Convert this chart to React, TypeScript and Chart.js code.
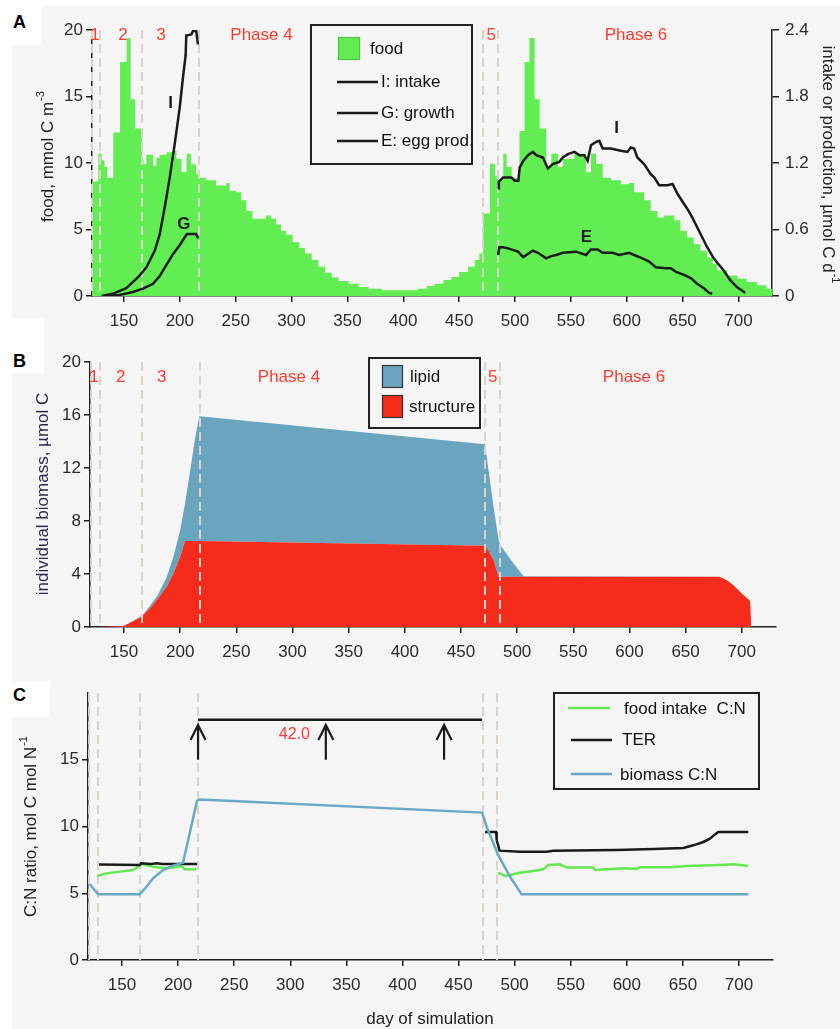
import React, { useEffect, useRef } from 'react';
import { Chart, registerables } from 'chart.js';

Chart.register(...registerables);

const FONT = '"Liberation Sans", Arial, Helvetica, sans-serif';
const BG = '#f5f5f5';
const AXIS = '#1f1f1f';
const TICK = '#2b2b2b';
const PHASE = '#dbd2ca';
const RED_TXT = '#ff3a2f';
const GREEN = '#62ee52';
const LIPID = '#6aa5bf';
const STRUCT = '#f52b1c';
const LINE_BLACK = '#1b1b1b';
const CN_GREEN = '#63ea4f';
const CN_BLUE = '#6aa8c7';

// ---------- shared axis data ----------
const X_TICKS = [150, 200, 250, 300, 350, 400, 450, 500, 550, 600, 650, 700];
const A_FOOD_TICKS = [0, 5, 10, 15, 20];
const A_RATE_TICKS = [0, 0.6, 1.2, 1.8, 2.4];
const B_TICKS = [0, 4, 8, 12, 16, 20];
const C_TICKS = [0, 5, 10, 15];
const PHASE_DAYS = [128.8, 166.3, 217.4, 471.6, 484.6];
const PHASE_NAMES = ['1', '2', '3', 'Phase 4', '5', 'Phase 6'];
const A_PHASE_LABEL_DAYS = [124, 149.1, 183.1, 273.1, 478.6, 608.2];
const B_PHASE_LABEL_DAYS = [123.3, 147.1, 183.6, 296.9, 478.3, 604.1];

// ---------- panel A data ----------
// food concentration, step start day -> value (mmol C m-3)
const foodSteps: [number, number][] = [
  [121.4, 8.6], [127, 10.7], [130, 10.2], [132.5, 9.7], [135, 8.9], [140.5, 12.3], [146.5, 17.6],
  [152.5, 19.4], [156, 14.8], [160, 12.6], [166, 10.2], [167.5, 9.9], [170, 10.6], [176, 9.8],
  [179, 10.4], [182, 10.6], [188, 10.8], [194, 10.9], [197, 10.3], [201.5, 9.3], [206, 10.7],
  [210, 9.9], [214.5, 9.2], [217.5, 8.9], [223.5, 8.7], [232.5, 8.3], [241.5, 8.5], [244.5, 7.9],
  [250.5, 7.8], [255, 7.2], [259.5, 6.4], [265, 5.8], [277, 6.06], [281.5, 5.8], [286, 5.4],
  [290.5, 4.9], [295, 4.6], [301, 4.05], [307, 3.6], [312, 3.2], [318, 2.7], [324, 2.2],
  [330, 1.75], [336, 1.4], [342, 1.13], [351, 0.93], [360, 0.68], [369, 0.55], [381, 0.43],
  [396, 0.43], [413, 0.55], [421, 0.75], [428, 0.93], [436, 1.2], [443, 1.43], [450, 1.8],
  [458, 2.2], [464, 2.7], [468, 3.2], [471.5, 6.2], [477.5, 9.95], [482, 9.0], [485, 8.7],
  [489.5, 10.7], [492.5, 9.7], [497, 8.9], [504, 12.4], [508.5, 17.6], [513, 19.4], [517.5, 14.8],
  [522, 12.6], [528, 9.7], [532.5, 10.7], [538.5, 9.7], [543, 10.3], [553, 10.7], [563.5, 9.3],
  [568, 10.7], [572.5, 9.95], [578.5, 8.9], [586, 8.7], [595, 8.4], [602, 8.5], [606.5, 7.8],
  [615.5, 7.2], [621.5, 6.4], [627.5, 5.9], [633.5, 6.06], [642.5, 5.7], [648, 4.9], [654, 4.4],
  [660, 3.9], [666, 3.4], [672, 2.9], [677, 2.4], [681, 1.93], [690, 1.55], [699, 1.3],
  [707.5, 1.05], [716.5, 0.8], [725, 0.55], [730, 0.55],
];
// intake, growth, egg production (µmol C d-1)
const intakeYear1: [number, number][] = [
  [130, 0], [140, 0.02], [152, 0.07], [162.7, 0.17], [170.2, 0.26], [177.6, 0.41], [182.1, 0.56],
  [186.5, 0.8], [191, 1.07], [195.4, 1.37], [199.9, 1.7], [202.8, 1.97], [205.2, 2.17],
  [205.8, 2.35], [210.3, 2.36], [211.7, 2.39], [214.7, 2.39], [216.2, 2.27],
];
const growthYear1: [number, number][] = [
  [131, 0], [146, 0.01], [158, 0.036], [167, 0.067], [176, 0.11], [182, 0.18], [188, 0.28],
  [194, 0.38], [200, 0.46], [204.3, 0.53], [206.5, 0.56], [214.5, 0.56], [216.5, 0.52],
];
const intakeYear2: [number, number][] = [
  [484.9, 0.97], [485.5, 1.03], [489.4, 1.07], [496.8, 1.07], [499.7, 1.04], [503, 1.04],
  [504.2, 1.16], [507.5, 1.22], [511.6, 1.27], [516, 1.3], [519, 1.27], [525, 1.25], [529.4, 1.15],
  [533.8, 1.19], [539.7, 1.21], [542.8, 1.25], [547.3, 1.28], [553.2, 1.3], [557.7, 1.27],
  [562, 1.27], [565, 1.22], [568, 1.36], [572.5, 1.39], [575.4, 1.4], [578.4, 1.33], [585.8, 1.33],
  [594.7, 1.31], [600.6, 1.3], [603.6, 1.34], [606.6, 1.33], [609.5, 1.25], [615.5, 1.19],
  [621.5, 1.1], [624.5, 1.07], [629, 1.0], [636.6, 1.0], [641, 1.01], [645.5, 0.92], [650, 0.85],
  [654, 0.79], [658.6, 0.71], [663, 0.62], [667.5, 0.53], [672, 0.44], [677.9, 0.34], [681, 0.3],
  [686.8, 0.23], [692.8, 0.14], [698.6, 0.08], [706, 0.03],
];
const eggYear2: [number, number][] = [
  [484.9, 0.37], [486, 0.44], [489.4, 0.44], [493.8, 0.43], [502.7, 0.4], [507.2, 0.35],
  [511.6, 0.38], [516, 0.41], [520.5, 0.39], [527.9, 0.34], [532.4, 0.36], [536.8, 0.37],
  [542.8, 0.39], [554.7, 0.4], [563.5, 0.37], [568, 0.42], [574, 0.42], [578.4, 0.39],
  [587.3, 0.39], [593.2, 0.37], [602.2, 0.39], [606.6, 0.37], [614, 0.34], [620, 0.31],
  [626, 0.26], [634.9, 0.25], [639.3, 0.25], [643.8, 0.22], [651.2, 0.19], [657.6, 0.16],
  [663, 0.11], [669, 0.07], [673.5, 0.03], [676.5, 0.02],
];
const curveLabels: [string, number, number][] = [
  ['I', 191.8, 1.74], ['G', 203.7, 0.65], ['I', 591, 1.51], ['E', 564, 0.53],
];

// ---------- panel B data ----------
const bDays = [128, 140, 150, 158, 166, 173, 180, 188, 194, 200, 204.3, 209, 213, 217, 471.5, 474.5, 479, 483.5, 485, 495, 505.7, 680, 686.8, 692.7, 698.6, 707.5, 708.5];
const structure = [0, 0.05, 0.1, 0.43, 0.81, 1.39, 2.14, 3.03, 4.04, 5.3, 6.5, 6.5, 6.5, 6.5, 6.13, 5.75, 5.05, 3.8, 3.8, 3.8, 3.8, 3.8, 3.53, 3.15, 2.65, 1.97, 0];
const lipid = [0, 0, 0, 0.02, 0.04, 0.2, 0.26, 0.75, 1.26, 2.0, 2.8, 5.35, 7.6, 9.4, 7.67, 6.1, 4.05, 2.76, 2.38, 1.2, 0.03, 0, 0, 0, 0, 0, 0];

// ---------- panel C data ----------
const foodIntakeCN: [number, number | null][] = [
  [128, 6.29], [136, 6.49], [148, 6.62], [160, 6.74], [164.3, 6.99], [167.3, 7.19], [173, 7.07],
  [180.7, 6.94], [189.6, 6.87], [197, 6.94], [203, 7.04], [205.9, 6.79], [216.4, 6.79], [216.5, null],
  [485.3, 6.54], [491.3, 6.29], [495.8, 6.37], [504.7, 6.54], [516.6, 6.67], [525.5, 6.79],
  [530, 7.12], [540.4, 7.17], [546.3, 6.92], [570.1, 6.92], [571.6, 6.74], [582, 6.79],
  [596.8, 6.87], [608.8, 6.82], [611.7, 6.94], [638.5, 6.94], [653.4, 7.04], [683.2, 7.12],
  [695.1, 7.17], [708.3, 7.04],
];
const terCN: [number, number | null][] = [
  [129.5, 7.15], [166, 7.12], [167, 7.24], [176, 7.2], [181, 7.24], [186, 7.2], [217, 7.2], [217.4, null],
  [217.8, 42.0], [471, 42.0], [472, null],
  [473.7, 9.59], [483.5, 9.59], [484, 8.99], [486.6, 8.19], [504.7, 8.11], [528.5, 8.11],
  [534.4, 8.19], [590.6, 8.24], [623.6, 8.31], [650.4, 8.39], [659.3, 8.59], [668.2, 8.84],
  [674.1, 9.09], [678.6, 9.41], [681.5, 9.59], [708.3, 9.59],
];
const biomassCN: [number, number][] = [
  [121.2, 5.69], [128.6, 4.92], [165.8, 4.92], [171.8, 5.49], [177.7, 6.12], [186.6, 6.74],
  [195.5, 7.07], [204.4, 7.29], [216.9, 11.93], [219.3, 12.03], [471, 11.04], [475, 9.99],
  [485.3, 7.87], [495.8, 6.24], [506.2, 4.92], [708.3, 4.92],
];
const TER_CAP = 18; // off-scale TER drawn at the top of the panel
const TER_LABEL = '42.0';
const ARROW_DAYS = [217.8, 331.7, 437.1];

// ---------- helpers ----------
const pts = (arr: [number, number | null][], cap = Infinity) =>
  arr.map(([x, y]) => ({ x, y: y === null ? null : Math.min(y, cap) }));

function txt(ctx: any, s: string, x: number, y: number, o: any = {}) {
  ctx.save();
  ctx.font = o.font || `17px ${FONT}`;
  ctx.fillStyle = o.color || TICK;
  ctx.textAlign = o.align || 'center';
  ctx.textBaseline = o.baseline || 'middle';
  ctx.fillText(s, x, y);
  ctx.restore();
}

function rotTitle(ctx: any, main: string, sup: string, cx: number, cy: number, angle: number, color: string) {
  ctx.save();
  ctx.translate(cx, cy);
  ctx.rotate(angle);
  const f1 = `17px ${FONT}`;
  const f2 = `11px ${FONT}`;
  ctx.font = f1;
  const w1 = ctx.measureText(main).width;
  ctx.font = f2;
  const w2 = sup ? ctx.measureText(sup).width : 0;
  const x0 = -(w1 + w2) / 2;
  ctx.fillStyle = color;
  ctx.textBaseline = 'middle';
  ctx.textAlign = 'left';
  ctx.font = f1;
  ctx.fillText(main, x0, 0);
  if (sup) {
    ctx.font = f2;
    ctx.fillText(sup, x0 + w1 + 1, -7);
  }
  ctx.restore();
}

function phaseLines(chart: any, days: number[]) {
  const { ctx, chartArea: a, scales } = chart;
  ctx.save();
  ctx.strokeStyle = PHASE;
  ctx.lineWidth = 2;
  ctx.setLineDash([9, 5]);
  for (const d of days) {
    const x = Math.round(scales.x.getPixelForValue(d));
    ctx.beginPath();
    ctx.moveTo(x, a.top);
    ctx.lineTo(x, a.bottom);
    ctx.stroke();
  }
  ctx.restore();
}

function hline(ctx: any, x1: number, x2: number, y: number, color: string, w = 2.5) {
  ctx.save();
  ctx.strokeStyle = color;
  ctx.lineWidth = w;
  ctx.beginPath();
  ctx.moveTo(x1, y);
  ctx.lineTo(x2, y);
  ctx.stroke();
  ctx.restore();
}

function box(ctx: any, x: number, y: number, w: number, h: number) {
  ctx.save();
  ctx.fillStyle = BG;
  ctx.fillRect(x, y, w, h);
  ctx.strokeStyle = '#222';
  ctx.lineWidth = 2;
  ctx.strokeRect(x, y, w, h);
  ctx.restore();
}

function swatch(ctx: any, x: number, y: number, w: number, h: number, fill: string, stroke: string) {
  ctx.save();
  ctx.fillStyle = fill;
  ctx.fillRect(x, y, w, h);
  ctx.strokeStyle = stroke;
  ctx.lineWidth = 1.2;
  ctx.strokeRect(x + 0.5, y + 0.5, w - 1, h - 1);
  ctx.restore();
}

function scaleX(min: number, max: number) {
  return {
    type: 'linear', position: 'bottom', min, max, z: 1,
    grid: { drawOnChartArea: false, drawTicks: true, tickLength: 6, color: AXIS, lineWidth: 1.5 },
    border: { display: true, color: AXIS, width: 1.5 },
    ticks: { color: TICK, font: { family: FONT, size: 17 }, padding: 9, maxRotation: 0, autoSkip: false, callback: (v: number) => String(v) },
    afterBuildTicks: (s: any) => { s.ticks = X_TICKS.map((value) => ({ value })); },
    afterFit: (s: any) => { s.height = 40; },
  };
}

function scaleY(min: number, max: number, ticks: number[], width: number, fmt: (v: number) => string, position = 'left', dashed = true) {
  return {
    type: 'linear', position, min, max, z: 1,
    grid: { drawOnChartArea: false, drawTicks: true, tickLength: position === 'left' ? 6 : 7, color: AXIS, lineWidth: 1.5 },
    border: dashed ? { display: true, color: AXIS, width: 1.5, dash: [4, 3] } : { display: true, color: AXIS, width: 1.5 },
    ticks: { color: TICK, font: { family: FONT, size: 17 }, padding: position === 'left' ? 3 : 6, autoSkip: false, callback: (v: number) => fmt(v) },
    afterBuildTicks: (s: any) => { s.ticks = ticks.map((value) => ({ value })); },
    afterFit: (s: any) => { s.width = width; },
  };
}

const base = (padding: any) => ({
  responsive: false,
  animation: false,
  devicePixelRatio: 1,
  events: [],
  layout: { padding },
  plugins: { legend: { display: false }, tooltip: { enabled: false } },
  elements: { point: { radius: 0 }, line: { tension: 0 } },
});

// ---------- panel A ----------
const A_XMIN = 121.4;
const A_XMAX = 730;
function configA(): any {
  const lineDs = (data: [number, number][]) => ({
    type: 'line', data: pts(data), yAxisID: 'y2', borderColor: LINE_BLACK, borderWidth: 2.5,
    pointRadius: 0, fill: false, order: 1,
  });
  return {
    type: 'line',
    data: {
      datasets: [
        {
          data: pts(foodSteps), yAxisID: 'y', stepped: 'before', fill: 'origin',
          backgroundColor: GREEN, borderColor: 'rgba(0,0,0,0)', borderWidth: 0, pointRadius: 0, order: 2,
        },
        lineDs(intakeYear1), lineDs(growthYear1), lineDs(intakeYear2), lineDs(eggYear2),
      ],
    },
    options: {
      ...base({ left: 0, right: 0, top: 30, bottom: 1029 - 296 - 40 }),
      scales: {
        x: scaleX(A_XMIN, A_XMAX),
        y: scaleY(0, 20, A_FOOD_TICKS, 92, (v) => String(v)),
        y2: scaleY(0, 2.4, A_RATE_TICKS, 68, (v) => (v === 0 ? '0' : v.toFixed(1)), 'right', false),
      },
    },
    plugins: [{
      id: 'panelA',
      afterDatasetDraw(chart: any, args: any) {
        if (args.index === 0) phaseLines(chart, [A_XMIN, ...PHASE_DAYS]);
      },
      afterDraw(chart: any) {
        const { ctx, scales } = chart;
        PHASE_NAMES.forEach((n, i) => txt(ctx, n, scales.x.getPixelForValue(A_PHASE_LABEL_DAYS[i]), 35, { color: RED_TXT }));
        curveLabels.forEach(([s, d, v]) =>
          txt(ctx, s, scales.x.getPixelForValue(d), scales.y2.getPixelForValue(v), { font: `bold 17px ${FONT}`, color: LINE_BLACK }));
        box(ctx, 311, 25, 161, 139);
        swatch(ctx, 338, 37, 22, 23, GREEN, '#55c048');
        txt(ctx, 'food', 370, 49, { align: 'left', color: '#111' });
        [['I: intake', 82], ['G: growth', 113], ['E: egg prod.', 141]].forEach(([s, y]: any) => {
          hline(ctx, 337, 378, y, LINE_BLACK);
          txt(ctx, s, 381, y, { align: 'left', color: '#111' });
        });
        rotTitle(ctx, 'food, mmol C m', '-3', 48, 157, -Math.PI / 2, '#222');
        rotTitle(ctx, 'intake or production, µmol C d', '-1', 828, 164, Math.PI / 2, '#222');
      },
    }],
  };
}

// ---------- panel B ----------
const B_XMIN = 119.7;
const B_XMAX = 730.5;
function configB(): any {
  const structPts = bDays.map((d, i) => ({ x: d, y: structure[i] }));
  const totalPts = bDays.map((d, i) => ({ x: d, y: structure[i] + lipid[i] }));
  return {
    type: 'line',
    data: {
      datasets: [
        { data: structPts, fill: 'origin', backgroundColor: STRUCT, borderColor: STRUCT, borderWidth: 0, pointRadius: 0 },
        { data: totalPts, fill: '-1', backgroundColor: LIPID, borderColor: LIPID, borderWidth: 0, pointRadius: 0 },
      ],
    },
    options: {
      ...base({ left: 0, right: 840 - 776, top: 362, bottom: 1029 - 627 - 40 }),
      scales: {
        x: scaleX(B_XMIN, B_XMAX),
        y: scaleY(0, 20, B_TICKS, 90, (v) => String(v)),
      },
    },
    plugins: [{
      id: 'panelB',
      afterDatasetsDraw(chart: any) {
        phaseLines(chart, [B_XMIN + 0.6, ...PHASE_DAYS]);
      },
      afterDraw(chart: any) {
        const { ctx, scales } = chart;
        PHASE_NAMES.forEach((n, i) => txt(ctx, n, scales.x.getPixelForValue(B_PHASE_LABEL_DAYS[i]), 377, { color: RED_TXT }));
        box(ctx, 369, 358, 111, 70);
        swatch(ctx, 382, 365, 21, 23, LIPID, '#333');
        swatch(ctx, 382, 395, 21, 23, STRUCT, '#333');
        txt(ctx, 'lipid', 410, 377, { align: 'left', color: '#111' });
        txt(ctx, 'structure', 409, 407, { align: 'left', color: '#111' });
        rotTitle(ctx, 'individual biomass, µmol C', '', 43, 494, -Math.PI / 2, '#2a2a4e');
      },
    }],
  };
}

// ---------- panel C ----------
const C_XMIN = 119.7;
const C_XMAX = 730.3;
function configC(): any {
  const ds = (data: [number, number | null][], color: string, cap = Infinity) => ({
    data: pts(data, cap), borderColor: color, borderWidth: 2.5, pointRadius: 0, fill: false, spanGaps: false,
  });
  return {
    type: 'line',
    data: {
      datasets: [
        ds(biomassCN, CN_BLUE),
        ds(terCN, LINE_BLACK, TER_CAP),
        ds(foodIntakeCN, CN_GREEN),
      ],
    },
    options: {
      ...base({ left: 0, right: 840 - 773, top: 693, bottom: 1029 - 960 - 40 }),
      scales: {
        x: scaleX(C_XMIN, C_XMAX),
        y: scaleY(0, 20, C_TICKS, 88, (v) => String(v)),
      },
    },
    plugins: [{
      id: 'panelC',
      beforeDatasetsDraw(chart: any) {
        phaseLines(chart, [C_XMIN + 0.6, ...PHASE_DAYS]);
      },
      afterDraw(chart: any) {
        const { ctx, scales } = chart;
        const xs = scales.x, ys = scales.y;
        ctx.save();
        ctx.strokeStyle = LINE_BLACK;
        ctx.lineWidth = 2.2;
        ARROW_DAYS.forEach((d) => {
          const x = xs.getPixelForValue(d);
          const yb = ys.getPixelForValue(15);
          const yt = ys.getPixelForValue(17.6);
          ctx.beginPath();
          ctx.moveTo(x, yb);
          ctx.lineTo(x, yt);
          ctx.moveTo(x - 7.5, yt + 15);
          ctx.lineTo(x, yt);
          ctx.lineTo(x + 7.5, yt + 15);
          ctx.stroke();
        });
        ctx.restore();
        txt(ctx, TER_LABEL, xs.getPixelForValue(303.7), ys.getPixelForValue(16.85), { color: RED_TXT, font: `16px ${FONT}` });
        box(ctx, 554, 693, 205, 96);
        hline(ctx, 568, 610, 708, CN_GREEN);
        hline(ctx, 571, 612, 740, LINE_BLACK);
        hline(ctx, 571, 612, 774, CN_BLUE);
        txt(ctx, 'food intake  C:N', 624, 709, { align: 'left', color: '#111' });
        txt(ctx, 'TER', 622, 740, { align: 'left', color: '#111' });
        txt(ctx, 'biomass C:N', 620, 775, { align: 'left', color: '#111' });
        rotTitle(ctx, 'C:N ratio, mol C mol N', '-1', 31, 827, -Math.PI / 2, '#222');
        txt(ctx, 'day of simulation', 430, 1019, { color: '#222' });
      },
    }],
  };
}

const letterStyle: any = {
  position: 'absolute', fontFamily: FONT, fontWeight: 'bold', fontSize: 18, lineHeight: '18px', color: '#000',
};

export default function App() {
  const refA = useRef<HTMLCanvasElement>(null);
  const refB = useRef<HTMLCanvasElement>(null);
  const refC = useRef<HTMLCanvasElement>(null);
  useEffect(() => {
    const charts = [
      new Chart(refA.current as HTMLCanvasElement, configA()),
      new Chart(refB.current as HTMLCanvasElement, configB()),
      new Chart(refC.current as HTMLCanvasElement, configC()),
    ];
    return () => charts.forEach((c) => c.destroy());
  }, []);
  const cv: any = { position: 'absolute', left: 0, top: 0, width: 840, height: 1029 };
  return (
    <div style={{ position: 'absolute', left: 0, top: 0, width: 840, height: 1029, background: '#fff', overflow: 'hidden' }}>
      <div style={{ position: 'absolute', left: 12, top: 6, width: 828, height: 1023, background: BG }} />
      <div style={{ position: 'absolute', left: 0, top: 0, width: 42, height: 45, background: '#fff' }} />
      <div style={{ position: 'absolute', left: 0, top: 318, width: 44, height: 55, background: '#fff' }} />
      <div style={{ position: 'absolute', left: 0, top: 681, width: 50, height: 36, background: '#fff' }} />
      <div style={{ ...letterStyle, left: 13, top: 13 }}>A</div>
      <div style={{ ...letterStyle, left: 13, top: 352 }}>B</div>
      <div style={{ ...letterStyle, left: 13, top: 686 }}>C</div>
      <canvas ref={refA} width={840} height={1029} style={cv} />
      <canvas ref={refB} width={840} height={1029} style={cv} />
      <canvas ref={refC} width={840} height={1029} style={cv} />
    </div>
  );
}
